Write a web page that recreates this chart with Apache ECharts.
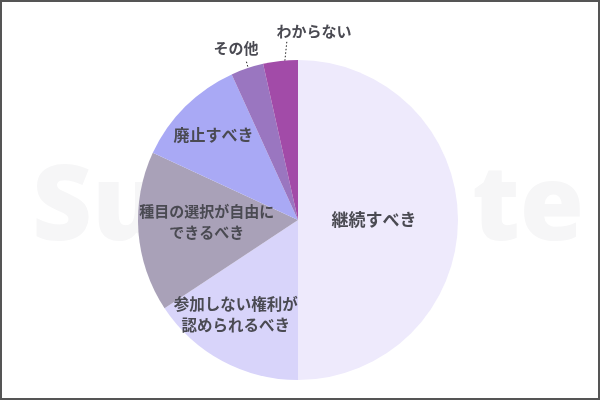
<!DOCTYPE html>
<html><head><meta charset="utf-8">
<script src="https://cdn.jsdelivr.net/npm/echarts@6/dist/echarts.min.js"></script>
<style>html,body{margin:0;padding:0;background:#fff}#c{width:600px;height:400px}</style>
</head><body><div id="c"></div>
<script>
// data
const categories = ['継続すべき', '参加しない権利が\n認められるべき', '種目の選択が自由に\nできるべき', '廃止すべき', 'その他', 'わからない'];
const values = [50.0, 15.7, 16.2, 11.3, 3.3, 3.5];

// styles
const colors = ['#EEEAFC', '#D8D4FA', '#A9A1B8', '#A9A9F5', '#9A76C0', '#A24BA8'];
const fontSizes = [17, 15.5, 15, 16, 15, 15];
const cx = 298, cy = 220, R = 160;
const insideR = [0.475, 0.71, 0.57, 0.75];
const insideAngleShift = [0, -5, -3, 0];
// outside labels: [labelDx, labelDy, lineTopDx, lineTopDy, lineInnerR]
const outsideCfg = {
  4: [-62, -171.5, -52, -160, 0.9],
  5: [16, -189, -11, -180, 0.87]
};

const total = values.reduce((a, b) => a + b, 0);
const mids = [];
let acc = 0;
values.forEach(v => { mids.push(90 - (acc + v / 2) / total * 360); acc += v; });

const chart = echarts.init(document.getElementById('c'), null, {renderer: 'canvas'});
chart.setOption({
  backgroundColor: '#ffffff',
  animation: false,
  graphic: [
    {type: 'text', z: -10, left: 32, top: 158, style: {text: 'Su', font: '900 104px "Open Sans", Lato, sans-serif', fill: '#f6f6f7'}},
    {type: 'text', z: -10, left: 472, top: 158, style: {text: 'te', font: '900 104px "Open Sans", Lato, sans-serif', fill: '#f6f6f7'}},
    {type: 'rect', z: 100, shape: {x: 1, y: 1, width: 598, height: 398}, style: {fill: 'none', stroke: '#555', lineWidth: 2}}
  ],
  series: [{
    type: 'pie',
    center: [cx, cy],
    radius: R,
    startAngle: 90,
    clockwise: true,
    avoidLabelOverlap: false,
    itemStyle: {borderWidth: 0},
    label: {
      show: true,
      position: 'inside',
      color: '#4a4a52',
      fontWeight: 'bold',
      fontFamily: '"Noto Sans CJK JP", sans-serif',
      lineHeight: 21,
      align: 'center',
      verticalAlign: 'middle'
    },
    labelLine: {show: false},
    data: categories.map((name, i) => {
      const outside = outsideCfg[i] !== undefined;
      return {
        name: name,
        value: values[i],
        itemStyle: {color: colors[i]},
        label: {position: outside ? 'outside' : 'inside', fontSize: fontSizes[i], formatter: '{b}'},
        labelLine: {show: outside, lineStyle: {color: '#222', width: 1, type: [1.5, 2]}}
      };
    }),
    labelLayout: function (p) {
      const i = p.dataIndex;
      if (outsideCfg[i]) {
        const c = outsideCfg[i];
        const a = mids[i] * Math.PI / 180;
        const inner = [cx + c[4] * R * Math.cos(a), cy - c[4] * R * Math.sin(a)];
        const top = [cx + c[2], cy + c[3]];
        return {
          x: cx + c[0], y: cy + c[1], align: 'center', verticalAlign: 'middle',
          labelLinePoints: [inner, [(inner[0] + top[0]) / 2, (inner[1] + top[1]) / 2], top]
        };
      }
      const a = (mids[i] + insideAngleShift[i]) * Math.PI / 180;
      return {x: cx + insideR[i] * R * Math.cos(a), y: cy - insideR[i] * R * Math.sin(a), align: 'center', verticalAlign: 'middle'};
    }
  }]
});
</script></body></html>
